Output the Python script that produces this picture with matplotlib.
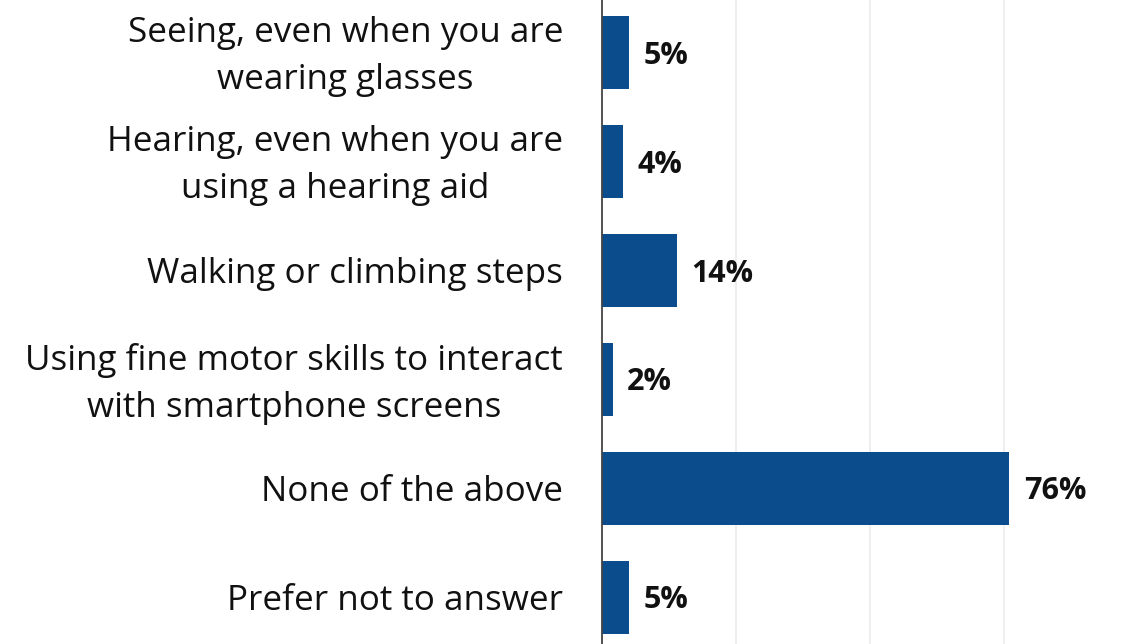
import matplotlib.pyplot as plt
import matplotlib.transforms as mtransforms

categories = [
    "Seeing, even when you are\nwearing glasses",
    "Hearing, even when you are\nusing a hearing aid",
    "Walking or climbing steps",
    "Using fine motor skills to interact\nwith smartphone screens",
    "None of the above",
    "Prefer not to answer",
]
values = [5, 4, 14, 2, 76, 5]

plt.rcParams['font.family'] = ['Open Sans', 'DejaVu Sans']

fig = plt.figure(figsize=(11.25, 6.44), dpi=100)
ax = fig.add_axes([602 / 1125, 0, 523 / 1125, 1])

pos = list(range(len(categories)))
ax.barh(pos, values, height=0.67, color='#0B4C8C')

for y, v in zip(pos, values):
    ax.text(v + 2.7, y + 0.03, f"{v}%", va='center', ha='left',
            fontsize=22, fontweight='bold', color='#111111')

ax.set_xlim(0, 97.6)
ax.set_ylim(5.43, -0.48)
ax.set_xticks([25, 50, 75])
ax.xaxis.grid(True, color='#EBEBEB', linewidth=1.2)
ax.set_axisbelow(True)
ax.tick_params(axis='x', length=0, labelbottom=False)

ax.set_yticks(pos)
ax.set_yticklabels(categories, fontsize=25.2, color='#111111', linespacing=1.5)
ax.tick_params(axis='y', length=0, pad=28)

# two-line labels sit a little high so both lines straddle the bar
lift = mtransforms.ScaledTranslation(0, 6 / 100, fig.dpi_scale_trans)
for lbl in ax.get_yticklabels():
    lbl.set_multialignment('center')
    if '\n' in lbl.get_text():
        lbl.set_transform(lbl.get_transform() + lift)

for s in ['top', 'right', 'bottom']:
    ax.spines[s].set_visible(False)
ax.spines['left'].set_color('#444444')
ax.spines['left'].set_linewidth(1.3)

fig.savefig('out.png', dpi=100)
